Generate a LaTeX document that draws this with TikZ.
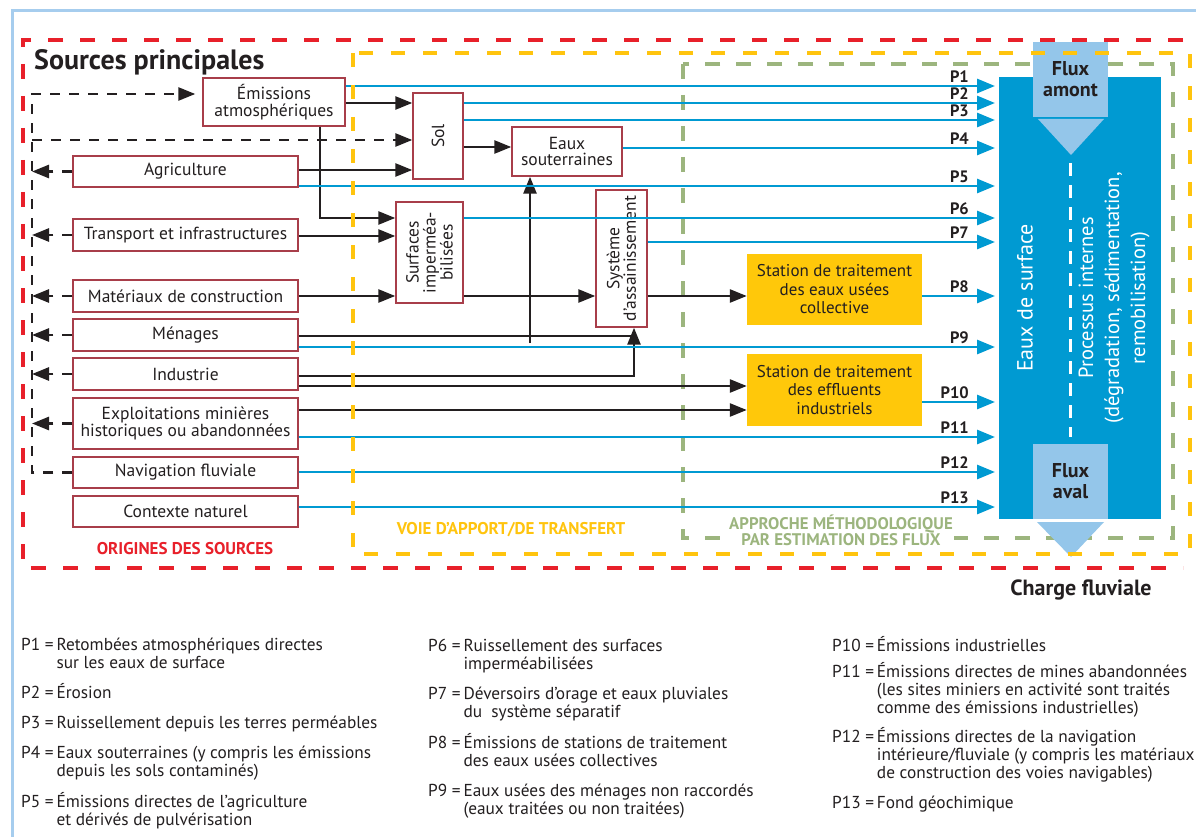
\documentclass[tikz,border=0pt]{standalone}
\usepackage{fontspec}
\setmainfont{PT Sans}
\usetikzlibrary{arrows.meta}
\definecolor{cred}{RGB}{232,32,42}
\definecolor{cyel}{RGB}{255,196,14}
\definecolor{cstat}{RGB}{255,200,10}
\definecolor{cgreen}{RGB}{156,181,126}
\definecolor{cbox}{RGB}{168,62,74}
\definecolor{cblue}{RGB}{0,154,210}
\definecolor{clblue}{RGB}{148,198,234}
\definecolor{cframe}{RGB}{166,205,238}
\definecolor{cdark}{RGB}{35,31,32}
\begin{document}
\begin{tikzpicture}[x=1pt,y=-1pt,
  srcbox/.style={draw=cbox, line width=1.4pt, fill=white, inner sep=0pt, align=center,
    text=cdark, font=\fontsize{17.5}{16.5}\selectfont},
  rottxt/.style={rotate=90, inner sep=0pt, align=center, text=cdark, font=\fontsize{17.5}{17}\selectfont},
  stbox/.style={fill=cstat, inner sep=0pt, align=center, text=cdark,
    font=\fontsize{17}{18.5}\selectfont, minimum width=175pt},
  fluxbox/.style={fill=clblue, minimum width=75pt, minimum height=75pt, inner sep=0pt, align=center,
    text=cdark, font=\bfseries\fontsize{20}{21}\selectfont},
  blk/.style={draw=cdark, line width=2.6pt, -{Triangle[length=17pt,width=13pt]}},
  blkline/.style={draw=cdark, line width=2.6pt},
  dsh/.style={draw=cdark, line width=2.6pt, dash pattern=on 10pt off 9pt},
  dsharr/.style={dsh, -{Triangle[length=17pt,width=13pt]}},
  bla/.style={draw=cblue, line width=2.8pt, -{Triangle[length=18pt,width=14pt]}},
  plab/.style={font=\bfseries\fontsize{16.5}{16.5}\selectfont, text=cdark, inner sep=0pt, anchor=south east},
  cat/.style={font=\bfseries\fontsize{17}{15.5}\selectfont, align=center, inner sep=0pt},
  leg/.style={font=\fontsize{17.3}{18}\selectfont, text=cdark, inner sep=0pt, anchor=base west},
  whtxt/.style={text=white, rotate=90, align=center, inner sep=0pt}
]
\useasboundingbox (0,0) rectangle (1196,837);
\fill[white] (0,0) rectangle (1196,837);
% outer light-blue frame
\draw[cframe, line width=3pt] (1196,11) -- (12,11) -- (12,837);
% red and green dashed zones
\draw[cred, line width=4pt, dash pattern=on 15pt off 17pt] (1183,40) -- (23,40) -- (23,568) -- (1183,568);
\draw[cgreen, line width=3.5pt, dash pattern=on 15pt off 16pt] (683,64) rectangle (1173,538);

% surface water block
\node[fill=cblue, minimum width=162pt, minimum height=442pt, inner sep=0pt] (sw) at (1080,298) {};
\node[fluxbox] (famont) at (1070.5,79.5) {Flux\\amont};
\fill[clblue] (1038,119) -- (1104,119) -- (1071,155) -- cycle;
\node[fluxbox] (faval) at (1070.5,481.5) {Flux\\aval};
\fill[clblue] (1037,522) -- (1104,522) -- (1071,557) -- cycle;
\draw[white, line width=2.5pt, dash pattern=on 13pt off 9pt] (famont.south |- 0,163) -- (faval.north |- 0,437);
\node[whtxt, font=\fontsize{22}{22}\selectfont] (esurf) at (1025,298) {Eaux de surface};
\node[whtxt, font=\fontsize{20.5}{26}\selectfont] (proc) at (1114,298) {Processus internes\\(dégradation, sédimentation,\\remobilisation)};

% source boxes
\node[srcbox, minimum width=142pt, minimum height=48pt] (emis) at (274,102) {Émissions\\atmosphériques};
\node[srcbox, minimum width=225pt, minimum height=31pt] (agri) at (185.5,171.5) {Agriculture};
\node[srcbox, minimum width=225pt, minimum height=32pt] (trans) at (185.5,235) {Transport et infrastructures};
\node[srcbox, minimum width=225pt, minimum height=32pt] (mat) at (185.5,296) {Matériaux de construction};
\node[srcbox, minimum width=225pt, minimum height=32pt] (men) at (185.5,335) {Ménages};
\node[srcbox, minimum width=225pt, minimum height=32pt] (ind) at (185.5,374) {Industrie};
\node[srcbox, minimum width=225pt, minimum height=51pt] (expl) at (185.5,423.5) {Exploitations minières\\historiques ou abandonnées};
\node[srcbox, minimum width=225pt, minimum height=31pt] (nav) at (185.5,472.5) {Navigation fluviale};
\node[srcbox, minimum width=225pt, minimum height=31pt] (ctx) at (185.5,511.5) {Contexte naturel};
% pathway boxes
\node[srcbox, minimum width=50pt, minimum height=86pt] (sol) at (438,136) {};
\node[rottxt] (soltxt) at (sol.center) {Sol};
\node[srcbox, minimum width=110pt, minimum height=49pt] (eaux) at (567,151.5) {Eaux\\souterraines};
\node[srcbox, minimum width=67pt, minimum height=101pt] (surf) at (429.5,252.5) {};
\node[rottxt] (surftxt) at (surf.center) {Surfaces\\imperméa-\\bilisées};
\node[srcbox, minimum width=51pt, minimum height=137pt] (sys) at (621.5,258.5) {};
\node[rottxt, font=\fontsize{17.5}{16.5}\selectfont] (systxt) at (sys.center) {Système\\d'assainissement};
\node[stbox, minimum height=71pt] (step) at (834.5,289.5) {Station de traitement\\des eaux usées\\collective};
\node[stbox, minimum height=72pt] (stind) at (834.5,390) {Station de traitement\\des effluents\\industriels};

% dashed feedback bus
\coordinate (bustop) at (32,94);
\coordinate (busbot) at (32,472.5);
\coordinate (bussol) at (32,140);
\draw[dsharr, shorten >=7pt] (nav.west) -- (busbot) -- (bustop) -- (emis.west |- bustop);
\draw[dsharr] (bussol) -- (sol.west |- bussol);
\foreach \n in {agri,trans,mat,men,ind,expl}{
  \draw[dsharr] (\n.west) -- (\n.west -| bustop);
}

% black flows
\draw[blk] (emis.east |- 0,103) -- (sol.west |- 0,103);
\draw[blk] (emis.south -| 320,0) -- (320,218) -- (surf.west |- 0,218);
\draw[blk] (agri.east |- 0,170) -- (sol.west |- 0,170);
\draw[blk] (trans.east |- 0,236) -- (surf.west |- 0,236);
\draw[blk] (sol.east |- 0,147) -- (eaux.west |- 0,147);
\draw[blk] (mat.east) -- (surf.west |- mat.east);
\draw[blk] (surf.east |- mat.east) -- (sys.west |- mat.east);
\draw[blk] (sys.east |- mat.east) -- (step.west |- mat.east);
\coordinate (menend) at (634,336);
\draw[blkline] (men.east |- menend) -- (menend);
\draw[blk] (530,343) -- (eaux.south -| 530,0);
\draw[blk] (ind.east |- 0,376) -- (634,376) -- (sys.south -| 634,0);
\draw[blk] (ind.east |- 0,386) -- (stind.west |- 0,386);
\draw[blk] (expl.east |- 0,410) -- (stind.west |- 0,410);

% blue flows to surface water
\draw[bla] (emis.east |- 0,86) -- (995,86);
\node[plab] (p1) at (969,83) {P1};
\draw[bla] (sol.east |- 0,103) -- (995,103);
\node[plab] (p2) at (969,100) {P2};
\draw[bla] (sol.east |- 0,120) -- (995,120);
\node[plab] (p3) at (969,117) {P3};
\draw[bla] (eaux.east |- 0,148) -- (995,148);
\node[plab] (p4) at (969,145) {P4};
\draw[bla] (agri.east |- 0,186) -- (995,186);
\node[plab] (p5) at (969,183) {P5};
\draw[bla] (surf.east |- 0,218) -- (995,218);
\node[plab] (p6) at (969,215) {P6};
\draw[bla] (sys.east |- 0,242) -- (995,242);
\node[plab] (p7) at (969,239) {P7};
\draw[bla] (step.east |- 0,296) -- (995,296);
\node[plab] (p8) at (969,293) {P8};
\draw[bla] (men.east |- 0,347) -- (995,347);
\node[plab] (p9) at (969,344) {P9};
\draw[bla] (stind.east |- 0,402) -- (995,402);
\node[plab] (p10) at (969,399) {P10};
\draw[bla] (expl.east |- 0,437) -- (995,437);
\node[plab] (p11) at (969,434) {P11};
\draw[bla] (nav.east |- 0,472) -- (995,472);
\node[plab] (p12) at (969,469) {P12};
\draw[bla] (ctx.east |- 0,507) -- (995,507);
\node[plab] (p13) at (969,504) {P13};

% yellow dashed zone (on top)
\draw[cyel, line width=3.5pt, dash pattern=on 14pt off 18pt] (353,53) rectangle (1190,554);

% zone titles
\node[anchor=base west, inner sep=0pt, text=cdark, font=\bfseries\fontsize{28}{28}\selectfont] (title) at (34,70) {Sources principales};
\node[cat, text=cred] (torig) at (185,549) {ORIGINES DES SOURCES};
\node[cat, text=cyel] (tvoie) at (511,530) {VOIE D'APPORT/DE TRANSFERT};
\node[cat, text=cgreen, fill=white, inner sep=1pt, font=\bfseries\fontsize{16.8}{15.5}\selectfont] (tappr) at (841,530.5) {APPROCHE MÉTHODOLOGIQUE\\PAR ESTIMATION DES FLUX};
\node[inner sep=0pt, text=cdark, font=\bfseries\fontsize{22}{22}\selectfont] (charge) at (1081,590) {Charge fluviale};

% legend
\node[leg] (l1) at (21,650) {\begin{tabular}[t]{@{}l@{\,}l@{}}P1 =&Retombées atmosphériques directes\\&sur les eaux de surface\end{tabular}};
\node[leg] (l2) at (21,698) {\begin{tabular}[t]{@{}l@{\,}l@{}}P2 =&Érosion\end{tabular}};
\node[leg] (l3) at (21,728) {\begin{tabular}[t]{@{}l@{\,}l@{}}P3 =&Ruissellement depuis les terres perméables\end{tabular}};
\node[leg] (l4) at (21,758) {\begin{tabular}[t]{@{}l@{\,}l@{}}P4 =&Eaux souterraines (y compris les émissions\\&depuis les sols contaminés)\end{tabular}};
\node[leg] (l5) at (21,807) {\begin{tabular}[t]{@{}l@{\,}l@{}}P5 =&Émissions directes de l'agriculture\\&et dérivés de pulvérisation\end{tabular}};
\node[leg] (l6) at (428,651) {\begin{tabular}[t]{@{}l@{\,}l@{}}P6 =&Ruissellement des surfaces\\&imperméabilisées\end{tabular}};
\node[leg] (l7) at (428,699) {\begin{tabular}[t]{@{}l@{\,}l@{}}P7 =&Déversoirs d'orage et eaux pluviales\\&du\ \ système séparatif\end{tabular}};
\node[leg] (l8) at (428,748) {\begin{tabular}[t]{@{}l@{\,}l@{}}P8 =&Émissions de stations de traitement\\&des eaux usées collectives\end{tabular}};
\node[leg] (l9) at (428,796) {\begin{tabular}[t]{@{}l@{\,}l@{}}P9 =&Eaux usées des ménages non raccordés\\&(eaux traitées ou non traitées)\end{tabular}};
\node[leg] (l10) at (832,651) {\begin{tabular}[t]{@{}l@{\,}l@{}}P10 =&Émissions industrielles\end{tabular}};
\node[leg] (l11) at (832,677) {\begin{tabular}[t]{@{}l@{\,}l@{}}P11 =&Émissions directes de mines abandonnées\\&(les sites miniers en activité sont traités\\&comme des émissions industrielles)\end{tabular}};
\node[leg] (l12) at (832,742) {\begin{tabular}[t]{@{}l@{\,}l@{}}P12 =&Émissions directes de la navigation\\&intérieure/fluviale (y compris les matériaux\\&de construction des voies navigables)\end{tabular}};
\node[leg] (l13) at (832,808) {\begin{tabular}[t]{@{}l@{\,}l@{}}P13 =&Fond géochimique\end{tabular}};
\end{tikzpicture}
\end{document}
